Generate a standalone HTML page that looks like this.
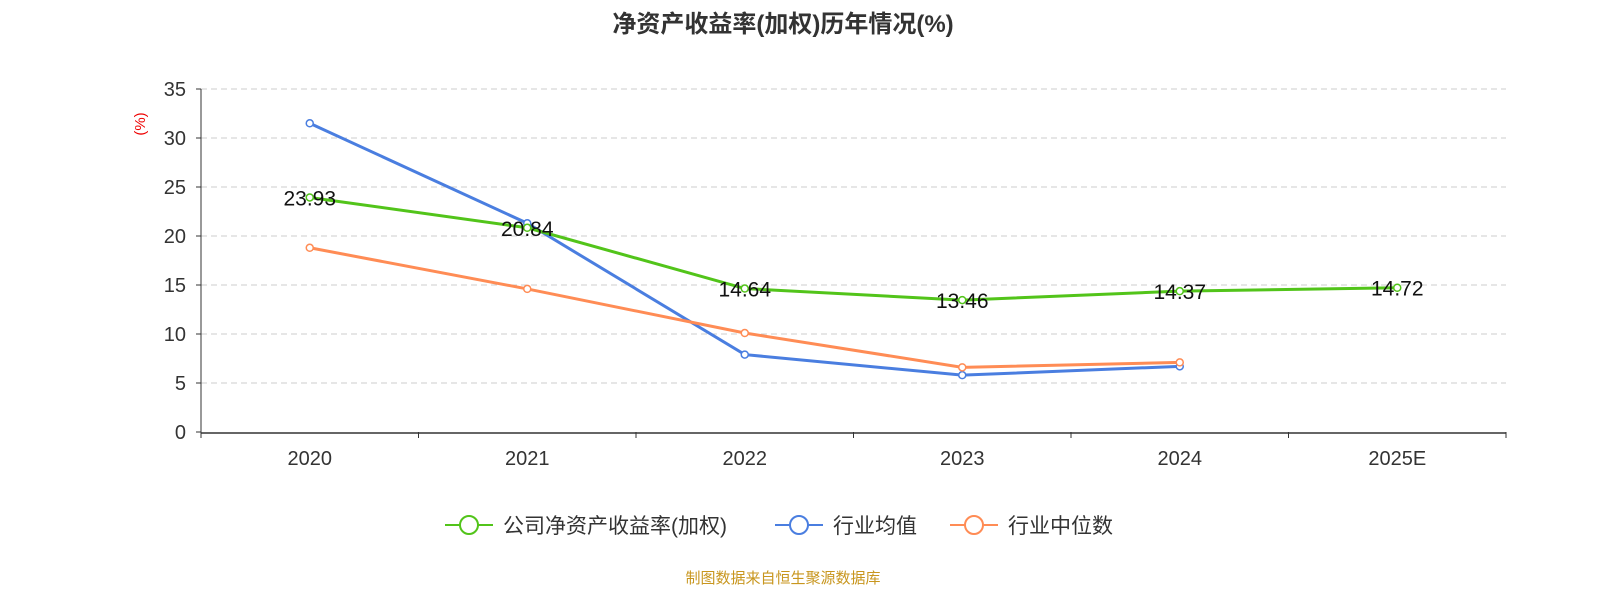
<!DOCTYPE html>
<html><head><meta charset="utf-8">
<style>
body{margin:0;background:#fff;font-family:"Liberation Sans","Noto Sans CJK SC",sans-serif;}
svg text{font-family:"Liberation Sans","Noto Sans CJK SC",sans-serif;}
</style></head>
<body>
<svg id="chart" width="1600" height="600" xmlns="http://www.w3.org/2000/svg">
<text x="783" y="32" text-anchor="middle" font-size="24" font-weight="bold" fill="#333">净资产收益率(加权)历年情况(%)</text>
<text transform="translate(145,124) rotate(-90)" text-anchor="middle" font-size="15" fill="#e00">(%)</text>
<g id="grid"></g><g id="axes"></g><g id="series"></g>
<g>
<g><line x1="445" y1="525" x2="493" y2="525" stroke="#52c41a" stroke-width="2"/><circle cx="469" cy="525" r="9" fill="#fff" stroke="#52c41a" stroke-width="2"/><text x="503" y="533" font-size="21" fill="#333">公司净资产收益率(加权)</text></g>
<g><line x1="775" y1="525" x2="823" y2="525" stroke="#4a7ee0" stroke-width="2"/><circle cx="799" cy="525" r="9" fill="#fff" stroke="#4a7ee0" stroke-width="2"/><text x="833" y="533" font-size="21" fill="#333">行业均值</text></g>
<g><line x1="950" y1="525" x2="998" y2="525" stroke="#ff8c55" stroke-width="2"/><circle cx="974" cy="525" r="9" fill="#fff" stroke="#ff8c55" stroke-width="2"/><text x="1008" y="533" font-size="21" fill="#333">行业中位数</text></g>
</g>
<text x="783" y="583" text-anchor="middle" font-size="15" fill="#c8961e">制图数据来自恒生聚源数据库</text>
</svg>
<script>
const categories=["2020","2021","2022","2023","2024","2025E"];
const companyValues=[23.93,20.84,14.64,13.46,14.37,14.72];
const avgValues=[31.5,21.3,7.9,5.8,6.7];
const medianValues=[18.8,14.6,10.1,6.6,7.1];
const yTicks=[0,5,10,15,20,25,30,35];
const NS="http://www.w3.org/2000/svg";
const x0=201,x1=1506,yb=432,yt=89,ymax=35;
const bw=(x1-x0)/categories.length;
const xs=i=>x0+bw*(i+0.5);
const ys=v=>yb-(v/ymax)*(yb-yt);
function mk(tag,attrs,parent,txt){const e=document.createElementNS(NS,tag);for(const k in attrs)e.setAttribute(k,attrs[k]);if(txt!==undefined)e.textContent=txt;document.getElementById(parent).appendChild(e);return e;}
yTicks.forEach(t=>{
  if(t>0){const g=mk('line',{x1:x0,x2:x1,y1:ys(t),y2:ys(t),stroke:'#ccc','stroke-dasharray':'6,4'},'grid');
  
  }
  const l=mk('text',{x:186,y:ys(t)+7,'text-anchor':'end','font-size':20,fill:'#333'},'axes',t);
  
  
  mk('line',{x1:196,x2:201,y1:ys(t),y2:ys(t),stroke:'#333'},'axes');
});
const ya=mk('line',{x1:x0,x2:x0,y1:yt,y2:yb,stroke:'#333'},'axes');


const xa=mk('line',{x1:x0,x2:x1,y1:yb+1,y2:yb+1,stroke:'#333','stroke-width':1.5},'axes');


for(let i=0;i<=categories.length;i++)mk('line',{x1:x0+bw*i,x2:x0+bw*i,y1:yb,y2:yb+6,stroke:'#333'},'axes');
categories.forEach((c,i)=>{const t=mk('text',{x:xs(i),y:465,'text-anchor':'middle','font-size':20,fill:'#333'},'axes',c);

});
function series(vals,color,name){
  const p=mk('polyline',{points:vals.map((v,i)=>xs(i)+','+ys(v)).join(' '),fill:'none',stroke:color,'stroke-width':3},'series');
  
  
  vals.forEach((v,i)=>{const c=mk('circle',{cx:xs(i),cy:ys(v),r:3.5,fill:'#fff',stroke:color,'stroke-width':1.5},'series');
  
  });
}
series(avgValues,'#4a7ee0','industry-avg');
series(medianValues,'#ff8c55','industry-median');
series(companyValues,'#52c41a','company');
companyValues.forEach((v,i)=>{const t=mk('text',{x:xs(i),y:ys(v)+8,'text-anchor':'middle','font-size':21,fill:'#111'},'series',v.toFixed(2));

});
</script>
</body></html>
